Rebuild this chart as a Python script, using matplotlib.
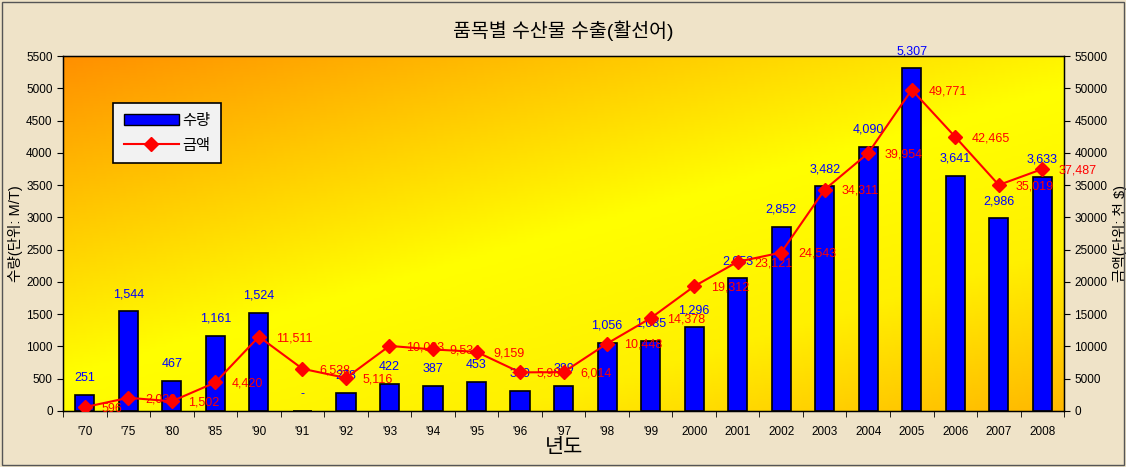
import matplotlib.pyplot as plt
import numpy as np
from matplotlib.colors import LinearSegmentedColormap
from matplotlib.patches import Rectangle
from matplotlib.lines import Line2D

plt.rcParams['font.family'] = ['Liberation Sans', 'Noto Sans CJK KR', 'DejaVu Sans']

years = ["'70", "'75", "'80", "'85", "'90", "'91", "'92", "'93", "'94", "'95", "'96", "'97",
         "'98", "'99", "2000", "2001", "2002", "2003", "2004", "2005", "2006", "2007", "2008"]
qty = [251, 1544, 467, 1161, 1524, 0, 278, 422, 387, 453, 310, 389,
       1056, 1085, 1296, 2053, 2852, 3482, 4090, 5307, 3641, 2986, 3633]
amount = [596, 2038, 1502, 4420, 11511, 6538, 5116, 10083, 9534, 9159, 5980, 6014,
          10448, 14378, 19312, 23121, 24543, 34311, 39954, 49771, 42465, 35019, 37487]

fig = plt.figure(figsize=(11.26, 4.67), dpi=100)
fig.patch.set_facecolor('#efe3c8')
fig.patches.append(Rectangle((0.002, 0.004), 0.996, 0.992, transform=fig.transFigure,
                             fill=False, edgecolor='#555555', lw=1))

ax = fig.add_axes([0.056, 0.12, 0.889, 0.76])
x = np.arange(len(years))

# gradient background: orange top-left -> yellow -> light orange bottom-right
cmap = LinearSegmentedColormap.from_list('bg', ['#ff9000', '#ffc800', '#ffff00', '#fff000', '#ffb800'])
gx, gy = np.meshgrid(np.linspace(0, 1, 300), np.linspace(1, 0, 150))
grad = (gx * 0.45 + (1 - gy) * 0.55)
ax.imshow(grad, cmap=cmap, extent=[0, 1, 0, 1], transform=ax.transAxes,
          aspect='auto', zorder=0)

ax.bar(x, qty, width=0.44, color='#0000ff', edgecolor='black', lw=1.2, zorder=2)
ax.set_xlim(-0.5, len(years) - 0.5)
ax.set_ylim(0, 5500)
ax.set_yticks(np.arange(0, 5501, 500))
ax.set_xticks(x)
ax.set_xticklabels(years, fontsize=8.5)
ax.set_xticks(np.arange(-0.5, len(years), 1), minor=True)
ax.tick_params(axis='x', which='major', length=0, pad=11)
ax.tick_params(axis='x', which='minor', length=4, direction='out')
ax.tick_params(axis='y', labelsize=8.5, length=4)
ax.set_ylabel('수량(단위: M/T)', fontsize=10.5, labelpad=2)
ax.set_xlabel('년도', fontsize=15, labelpad=0)
ax.set_title('품목별 수산물 수출(활선어)', fontsize=14, pad=14)
for s in ax.spines.values():
    s.set_linewidth(1)

for i, v in enumerate(qty):
    t = f'{v:,}' if v else '-'
    ax.annotate(t, (i, v), xytext=(0, 8), textcoords='offset points',
                ha='center', va='bottom', color='#0000ff', fontsize=9, zorder=5)

ax2 = ax.twinx()
ax2.plot(x, amount, color='#ff0000', lw=1.5, marker='D', ms=7, zorder=3)
ax2.set_ylim(0, 55000)
ax2.set_yticks(np.arange(0, 55001, 5000))
ax2.tick_params(axis='y', labelsize=8.5, length=4)
ax2.set_ylabel('금액(단위: 천 $)', fontsize=10.5, rotation=90, labelpad=4)
for i, v in enumerate(amount):
    ax2.annotate(f'{v:,}', (i, v), xytext=(12, -1), textcoords='offset points',
                 ha='left', va='center', color='#ff0000', fontsize=9, zorder=5)

handles = [Rectangle((0, 0), 1, 1, facecolor='#0000ff', edgecolor='black'),
           Line2D([], [], color='#ff0000', marker='D', ms=7, lw=1.5)]
leg = ax2.legend(handles, ['수량', '금액'], loc='upper left', bbox_to_anchor=(0.05, 0.868),
                 fontsize=11, frameon=True, fancybox=False, edgecolor='black',
                 handlelength=3.6, handleheight=0.8, borderpad=0.7, labelspacing=0.7,
                 handletextpad=0.2, borderaxespad=0)
leg.get_frame().set_facecolor('#f2f2f2')
leg.get_frame().set_linewidth(1.2)
leg.get_frame().set_alpha(1)

fig.savefig('out.png', dpi=100, facecolor=fig.get_facecolor())
